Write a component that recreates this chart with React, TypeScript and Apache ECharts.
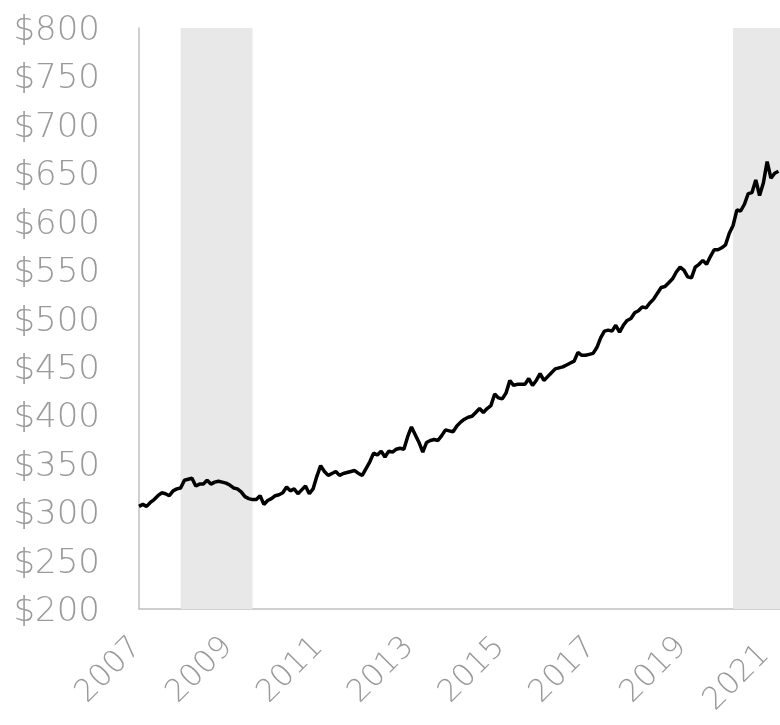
import React, { useEffect, useRef } from "react";
import * as echarts from "echarts";

// Monthly values, Jan 2007 (month 0) onward
const startYear = 2007;
const values: number[] = [
  306, 308, 306, 310, 313, 317, 320, 319, 317, 322, 324, 325,
  333, 334, 335, 327, 329, 329, 333, 329, 331, 332, 331, 330,
  328, 325, 324, 321, 316, 314, 313, 313, 317, 308, 312, 314,
  317, 318, 320, 326, 322, 324, 319, 323, 327, 319, 324, 337,
  348, 342, 338, 340, 342, 338, 340, 341, 342, 343, 340, 338,
  345, 352, 361, 359, 363, 357, 363, 362, 365, 366, 365, 378,
  388, 380, 372, 362, 372, 374, 375, 374, 379, 385, 384, 383,
  389, 393, 396, 398, 399, 403, 407, 403, 407, 410, 422, 418,
  417, 423, 436, 431, 432, 432, 432, 438, 431, 436, 443, 436,
  440, 444, 448, 449, 450, 452, 454, 456, 465, 462, 462, 463,
  464, 470, 480, 487, 488, 487, 493, 486, 493, 498, 500, 506,
  508, 512, 511, 516, 520, 526, 532, 533, 537, 541, 548, 553,
  550, 543, 542, 553, 556, 560, 556, 564, 571, 571, 573, 576,
  588, 596, 612, 611, 618, 629, 630, 643, 627, 640, 662, 645,
  650, 652,
];
// Recession periods in months since Jan 2007
const recessions: [number, number][] = [
  [11, 30],
  [157, 169.4],
];
const yTicks = { min: 200, max: 800, step: 50 };
const xTickMonths = 24;
const xMaxMonth = 169.4;

const labelFont = {
  color: "#9a9a9a",
  fontFamily: "DejaVu Sans",
  fontWeight: 200,
};

export default function App() {
  const ref = useRef<HTMLDivElement>(null);
  useEffect(() => {
    if (!ref.current) return;
    const chart = echarts.init(ref.current, undefined, { renderer: "svg" });
    const lineData = values.map((v, i) => [i, v]);
    chart.setOption({
      animation: false,
      grid: {
        left: 139,
        width: 641,
        top: 28,
        bottom: 116,
        containLabel: false,
        outerBoundsMode: "none",
      },
      xAxis: {
        type: "value",
        min: 0,
        max: xMaxMonth,
        interval: xTickMonths,
        axisLine: { show: true, lineStyle: { color: "#c0c0c0", width: 1.5 } },
        axisTick: { show: false },
        splitLine: { show: false },
        axisLabel: {
          ...labelFont,
          rotate: 45,
          margin: 27,
          padding: [0, 6, 0, 0],
          fontSize: 31,
          hideOverlap: false,
          formatter: (v: number) => {
            if (Math.abs(v % xTickMonths) > 1e-6) return "";
            const year = String(startYear + v / 12);
            return v + xTickMonths > xMaxMonth ? `{edge|${year}}` : year;
          },
          rich: {
            edge: { ...labelFont, fontSize: 31, padding: [0, 11, 0, 0] },
          },
        },
      },
      yAxis: {
        type: "value",
        min: yTicks.min,
        max: yTicks.max,
        interval: yTicks.step,
        axisLine: { show: true, lineStyle: { color: "#c0c0c0", width: 1.5 } },
        axisTick: { show: false },
        splitLine: { show: false },
        axisLabel: {
          ...labelFont,
          margin: 39,
          fontSize: 34,
          formatter: (v: number) => "$" + v,
        },
      },
      series: [
        {
          type: "line",
          data: lineData,
          showSymbol: false,
          symbol: "none",
          lineStyle: { color: "#000000", width: 3.5 },
          z: 3,
          markArea: {
            silent: true,
            itemStyle: { color: "#e8e8e8" },
            data: recessions.map(([a, b]) => [{ xAxis: a }, { xAxis: b }]),
          },
        },
      ],
    });
    return () => chart.dispose();
  }, []);
  return (
    <div
      ref={ref}
      style={{ position: "fixed", left: 0, top: 0, width: 780, height: 725 }}
    />
  );
}
